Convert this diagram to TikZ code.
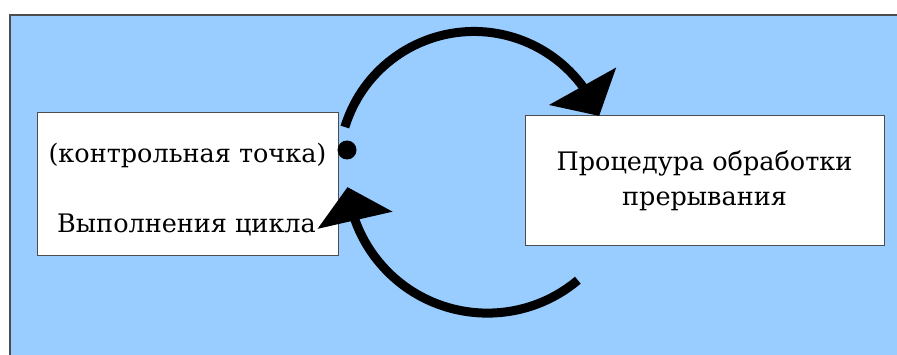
\documentclass[tikz,border=0pt]{standalone}
\usepackage{fontspec}
\setmainfont{DejaVu Serif}
\usetikzlibrary{arrows.meta,bending}
\definecolor{skyfill}{HTML}{99CCFF}
\definecolor{frameline}{HTML}{4D4D4D}
\begin{document}
\begin{tikzpicture}[x=1pt,y=1pt,
  box/.style={draw=frameline, line width=1pt, fill=white, inner sep=0pt},
  loop/.style={line width=9pt, -{Triangle[width=75pt,length=34pt,flex]}},
  lbl/.style={font=\rmfamily\fontsize{25.5}{35}\selectfont, text=black}]
\useasboundingbox (0,0) rectangle (897,354);
\clip (0,0) rectangle (897,354);
% light blue sheet
\filldraw[fill=skyfill, draw=frameline, line width=1.5pt] (10,-10) rectangle (910,339);
% the two blocks
\node[box, lbl, minimum width=301pt, minimum height=142pt] (loopbox) at (187.5,170) {};
\node[box, lbl, minimum width=359pt, minimum height=129pt, align=center] (isr) at (704.5,173.5)
  {Процедура обработки\\прерывания};
\node[lbl, anchor=base] (cp) at (187.5,192) {(контрольная точка)};
\node[lbl, anchor=base] (run) at (186.5,122) {Выполнения цикла};
% interrupt point
\node[circle, fill=black, minimum size=19pt, inner sep=0pt] (dot) at (347,204) {};
% centres of the two curved arrows
\coordinate (upc) at (474,187.5);
\coordinate (loc) at (487.4,181.6);
\draw[loop] (upc) ++(163:135) arc[start angle=163, end angle=22, radius=135];
\draw[loop] (loc) ++(-50:140.7) arc[start angle=-50, end angle=-174, radius=140.7];
\end{tikzpicture}
\end{document}
